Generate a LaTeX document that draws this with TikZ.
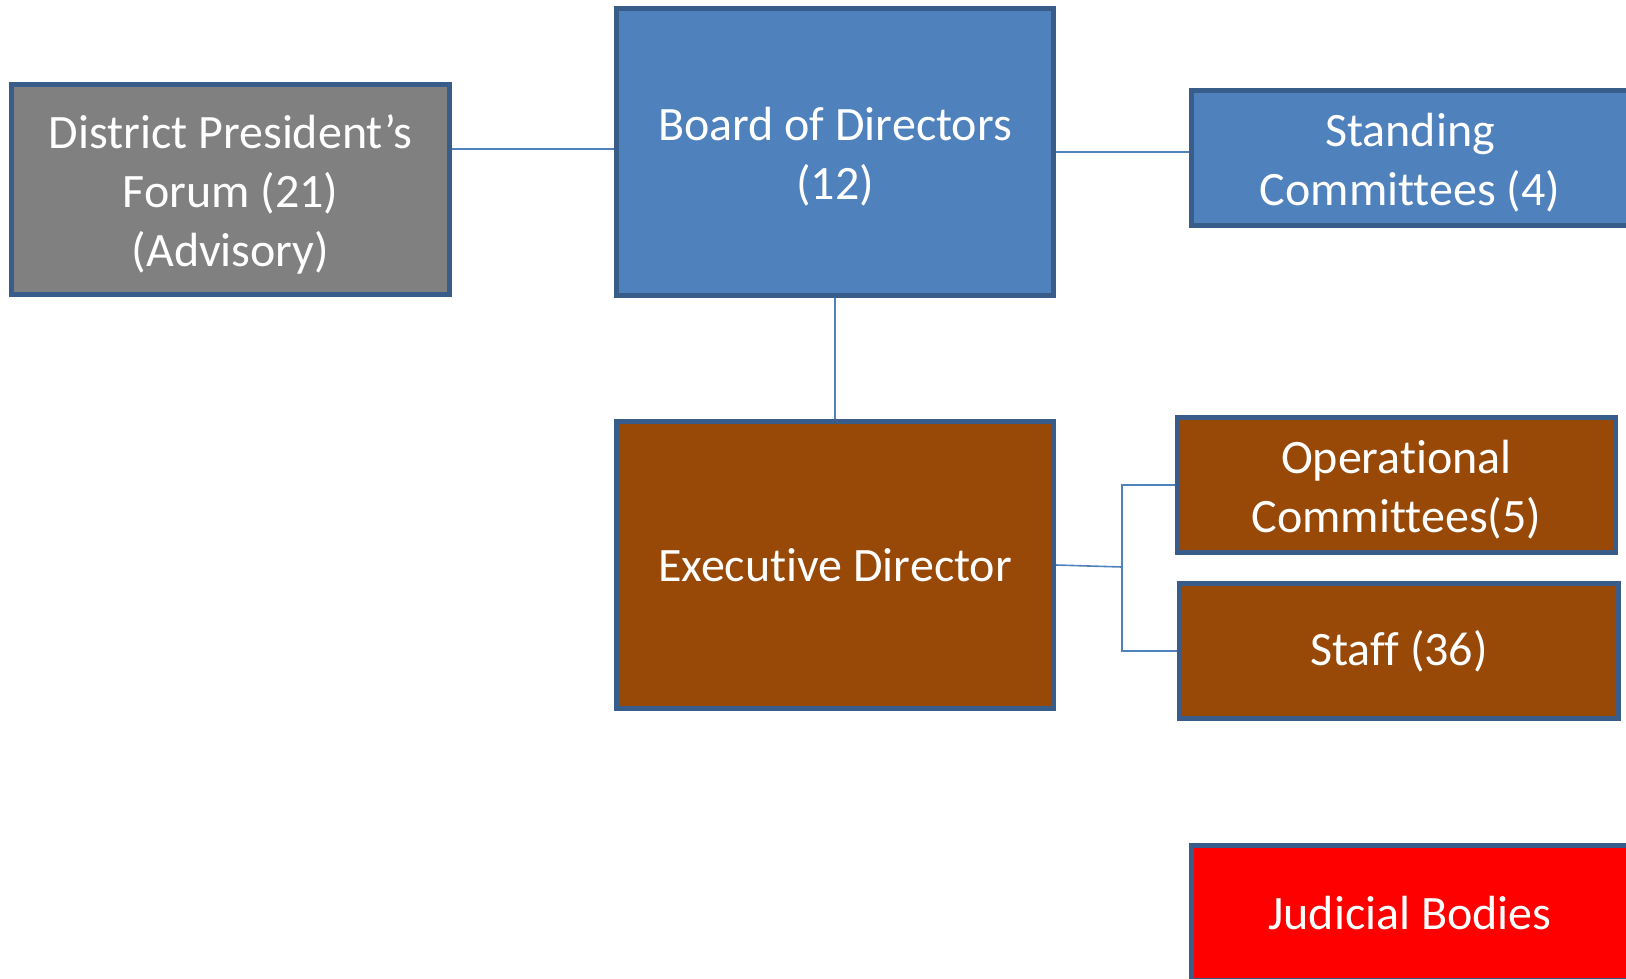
\documentclass[tikz,border=0pt]{standalone}
\usepackage{fontspec}
\setmainfont{Carlito}[Ligatures=NoCommon]
\definecolor{boxblue}{HTML}{4F81BD}
\definecolor{boxedge}{HTML}{385D8A}
\definecolor{boxgray}{HTML}{808080}
\definecolor{boxbrown}{HTML}{984807}
\definecolor{boxred}{HTML}{FF0000}
\newcommand{\myTopStrut}{\rule{0pt}{43pt}}
\begin{document}
\begin{tikzpicture}[x=1pt,y=-1pt,
  orgbox/.style={draw=boxedge, line width=5pt, text=white, align=center,
    inner sep=0pt, minimum width=438pt,
    font=\fontsize{48}{59}\selectfont},
  conn/.style={draw=boxblue, line width=1.6pt}]
\useasboundingbox (0,0) rectangle (1626,978);
\clip (0,0) rectangle (1626,978);
\node[orgbox, fill=boxgray, minimum height=210pt] (district) at (230.5,189.5) {\myTopStrut District President’s\\Forum (21)\\(Advisory)};
\node[orgbox, fill=boxblue, minimum width=437pt, minimum height=287pt] (board) at (835,152) {\myTopStrut Board of Directors\\(12)};
\node[orgbox, fill=boxblue, minimum width=437pt, minimum height=135pt] (standing) at (1410,158) {\myTopStrut Standing\\Committees (4)};
\node[orgbox, fill=boxbrown, minimum width=437pt, minimum height=287pt] (exec) at (835,565) {Executive Director};
\node[orgbox, fill=boxbrown, minimum height=135pt] (op) at (1396.5,485) {\myTopStrut Operational\\Committees(5)};
\node[orgbox, fill=boxbrown, minimum width=439pt, minimum height=135pt] (staff) at (1399,651) {Staff (36)};
\node[orgbox, fill=boxred, minimum width=437pt, minimum height=135pt] (judicial) at (1410,913) {Judicial Bodies};
\coordinate (fork) at (1122,567);
\draw[conn] (district.east |- 0,149) -- (board.west |- 0,149);
\draw[conn] (board.east) -- (standing.west |- board.east);
\draw[conn] (board.south) -- (exec.north);
\draw[conn] (exec.east) -- (fork);
\draw[conn] (op.west) -- (op.west -| fork) -- (staff.west -| fork) -- (staff.west);
\end{tikzpicture}
\end{document}
